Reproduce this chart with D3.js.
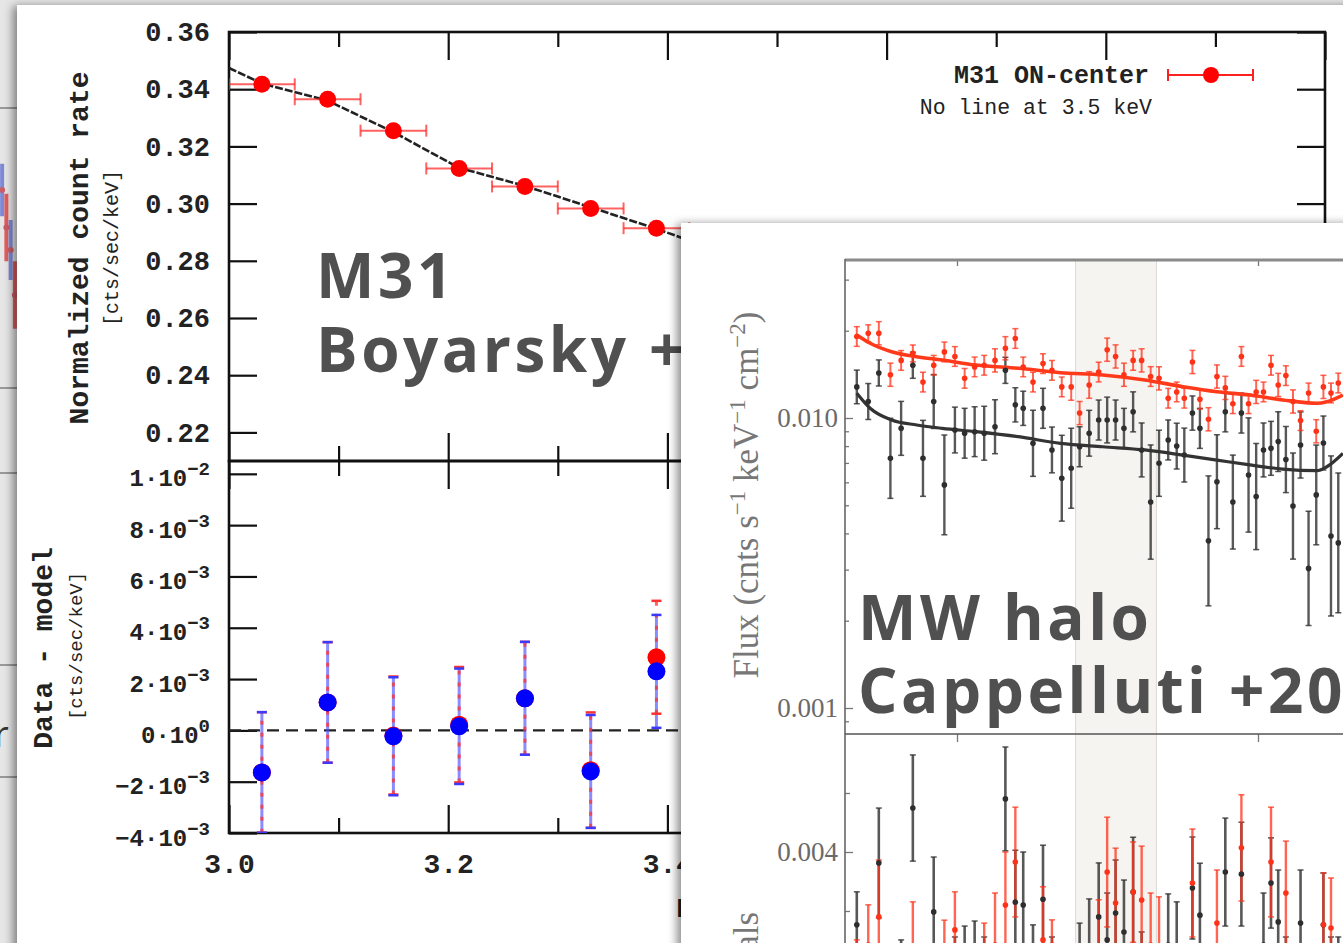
<!DOCTYPE html>
<html>
<head>
<meta charset="utf-8">
<script src="https://cdn.jsdelivr.net/npm/d3@7"></script>
<style>
  body { margin: 0; background: #e8e8e8; overflow: hidden; }
  svg { display: block; }
</style>
</head>
<body>
<svg id="chart"></svg>
<script>
// ---------- M31 panel (Boyarsky) ----------
const m31E = [3.03, 3.09, 3.15, 3.21, 3.27, 3.33, 3.39]
const m31EErr = [0.03, 0.03, 0.03, 0.03, 0.03, 0.03, 0.03]
const m31Rate = [0.3417, 0.3365, 0.3255, 0.3123, 0.3060, 0.2983, 0.2914]
const m31ModelE = [3.00, 3.03, 3.09, 3.15, 3.21, 3.27, 3.33, 3.39, 3.45, 3.51]
const m31ModelRate = [0.3474, 0.3420, 0.3360, 0.3250, 0.3125, 0.3062, 0.2987, 0.2912, 0.2830, 0.2770]
const m31ResRed = [-0.00164, 0.00109, -0.00020, 0.00022, 0.00125, -0.00155, 0.00285]
const m31ResBlue = [-0.00164, 0.00109, -0.00023, 0.00016, 0.00125, -0.00160, 0.00230]
const m31ResErrRed = [0.00235, 0.00235, 0.00230, 0.00225, 0.00220, 0.00225, 0.00220]
const m31ResErrBlue = [0.00235, 0.00235, 0.00230, 0.00225, 0.00220, 0.00220, 0.00220]
const m31RateTicks = [0.22, 0.24, 0.26, 0.28, 0.30, 0.32, 0.34, 0.36]
const m31ResTicks = [-0.004, -0.002, 0, 0.002, 0.004, 0.006, 0.008, 0.01]
const m31ETicks = [3.0, 3.2, 3.4, 3.6, 3.8, 4.0]
const m31ELabels = [3.0, 3.2, 3.4, 3.6, 3.8]
const m31EMinor = [3.1, 3.3, 3.5, 3.7, 3.9]

// ---------- MW halo panel (Cappelluti) ----------
const mwE = [2.726, 2.756, 2.784, 2.815, 2.844, 2.876, 2.904, 2.934, 2.964, 2.994,
  3.022, 3.051, 3.079, 3.111, 3.142, 3.172, 3.196, 3.226, 3.257, 3.285,
  3.316, 3.346, 3.373, 3.404, 3.435, 3.463, 3.491, 3.519, 3.550, 3.579,
  3.610, 3.639, 3.671, 3.701, 3.728, 3.757, 3.784, 3.815, 3.846, 3.877,
  3.905, 3.937, 3.964, 3.993, 4.021, 4.050, 4.078, 4.108, 4.136, 4.166,
  4.198, 4.229, 4.258, 4.289, 4.319]
const redFlux = [0.0191, 0.0196, 0.0196, 0.0141, 0.0158, 0.0167, 0.0133, 0.0152, 0.0169, 0.0163,
  0.0137, 0.0150, 0.0152, 0.0158, 0.0174, 0.0188, 0.0150, 0.0133, 0.0154, 0.0146,
  0.0128, 0.0128, 0.0104, 0.0130, 0.0144, 0.0172, 0.0163, 0.0141, 0.0158, 0.0158,
  0.0139, 0.0137, 0.0117, 0.0123, 0.0117, 0.0156, 0.0116, 0.0099, 0.0139, 0.0127,
  0.0112, 0.0163, 0.0112, 0.0123, 0.0123, 0.0152, 0.0130, 0.0140, 0.0114, 0.0098,
  0.0122, 0.0090, 0.0128, 0.0122, 0.0132]
// errors in dex (log10 units)
const redErrDex = [0.034, 0.029, 0.040, 0.040, 0.034, 0.029, 0.034, 0.034, 0.034, 0.034,
  0.034, 0.034, 0.034, 0.040, 0.040, 0.034, 0.034, 0.034, 0.034, 0.034,
  0.034, 0.046, 0.040, 0.046, 0.034, 0.040, 0.040, 0.040, 0.034, 0.040,
  0.034, 0.040, 0.034, 0.034, 0.034, 0.040, 0.034, 0.040, 0.040, 0.040,
  0.034, 0.034, 0.034, 0.040, 0.034, 0.034, 0.040, 0.034, 0.040, 0.034,
  0.034, 0.040, 0.040, 0.034, 0.034]
const blackFlux = [0.0128, 0.0114, 0.0143, 0.00726, 0.00921, 0.0152, 0.00726, 0.0114, 0.00588, 0.00909,
  0.00886, 0.00897, 0.00886, 0.00933, 0.0146, 0.0111, 0.0108, 0.00818, 0.0108, 0.00776,
  0.00620, 0.00671, 0.00796, 0.00886, 0.00984, 0.00984, 0.00984, 0.00921, 0.0105, 0.00776,
  0.00513, 0.00698, 0.00840, 0.00800, 0.00745, 0.0104, 0.00921, 0.00377, 0.00603, 0.0105,
  0.00513, 0.0104, 0.00636, 0.00536, 0.00776, 0.00786, 0.00829, 0.00719, 0.00497, 0.00807,
  0.00303, 0.00543, 0.00820, 0.00392, 0.00371]
const blackErrDex = [0.058, 0.062, 0.045, 0.138, 0.093, 0.045, 0.131, 0.093, 0.172, 0.079,
  0.086, 0.086, 0.093, 0.093, 0.045, 0.059, 0.059, 0.114, 0.069, 0.079,
  0.148, 0.138, 0.069, 0.079, 0.069, 0.079, 0.069, 0.069, 0.069, 0.093,
  0.197, 0.114, 0.069, 0.079, 0.093, 0.059, 0.069, 0.224, 0.162, 0.069,
  0.162, 0.069, 0.197, 0.183, 0.093, 0.093, 0.103, 0.114, 0.183, 0.114,
  0.197, 0.172, 0.093, 0.276, 0.241]
const redModelE = [2.726, 2.761, 2.818, 2.887, 2.958, 3.055, 3.181, 3.312, 3.448, 3.590, 3.723, 3.846, 3.969, 4.096, 4.232, 4.272, 4.338]
const redModelFlux = [0.01933, 0.01810, 0.01693, 0.01627, 0.01585, 0.01523, 0.01484, 0.01433, 0.01407, 0.01352, 0.01282, 0.01232, 0.01200, 0.01154, 0.01124, 0.01138, 0.01200]
const blackModelFlux = [0.01217, 0.01080, 0.00984, 0.00946, 0.00921, 0.00897, 0.00862, 0.00818, 0.00796, 0.00776, 0.00745, 0.00716, 0.00689, 0.00666, 0.00658, 0.00679, 0.00755]
const blackRes = [0.00153, -0.00068, 0.00363, -0.00102, -0.00017, 0.00549, -0.00102, 0.00197, -0.00136, -0.00068,
  0.00000, 0.00017, -0.00068, -0.00102, 0.00580, 0.00230, 0.00220, -0.00017, 0.00240, -0.00068,
  -0.00102, -0.00136, 0.00017, 0.00068, 0.00180, 0.00102, 0.00193, 0.00129, 0.00264, -0.00051,
  -0.00102, -0.00102, 0.00085, 0.00068, -0.00102, 0.00278, 0.00186, -0.00136, -0.00102, 0.00332,
  -0.00102, 0.00325, -0.00102, -0.00102, 0.00085, 0.00295, 0.00163, -0.00068, -0.00102, 0.00159,
  -0.00102, -0.00102, 0.00153, -0.00068, -0.00068]
const blackResErr = [0.00112, 0.00119, 0.00186, 0.00136, 0.00119, 0.00180, 0.00180, 0.00186, 0.00180, 0.00180,
  0.00149, 0.00149, 0.00180, 0.00180, 0.00176, 0.00176, 0.00180, 0.00170, 0.00183, 0.00180,
  0.00180, 0.00180, 0.00142, 0.00173, 0.00183, 0.00159, 0.00180, 0.00176, 0.00186, 0.00180,
  0.00180, 0.00180, 0.00173, 0.00163, 0.00180, 0.00173, 0.00176, 0.00180, 0.00180, 0.00183,
  0.00180, 0.00176, 0.00180, 0.00180, 0.00176, 0.00153, 0.00176, 0.00180, 0.00180, 0.00180,
  0.00180, 0.00180, 0.00176, 0.00180, 0.00180]
const redRes = [-0.00017, 0.00085, 0.00180, -0.00068, -0.00102, 0.00034, -0.00102, -0.00102, -0.00017, 0.00136,
  -0.00102, -0.00102, 0.00017, 0.00085, 0.00220, 0.00366, -0.00102, -0.00102, 0.00102, 0.00085,
  -0.00102, -0.00102, -0.00102, -0.00102, 0.00058, 0.00332, 0.00227, -0.00102, 0.00264, 0.00237,
  0.00085, 0.00068, -0.00102, -0.00102, -0.00102, 0.00295, -0.00102, -0.00102, 0.00159, -0.00102,
  -0.00102, 0.00414, -0.00102, -0.00102, -0.00102, 0.00366, -0.00102, 0.00261, -0.00102, -0.00102,
  -0.00102, -0.00102, 0.00153, 0.00142, -0.00102]
const redResErr = [0.00119, 0.00136, 0.00193, 0.00136, 0.00180, 0.00197, 0.00180, 0.00180, 0.00186, 0.00129,
  0.00180, 0.00180, 0.00142, 0.00176, 0.00180, 0.00186, 0.00180, 0.00180, 0.00180, 0.00085,
  0.00180, 0.00180, 0.00180, 0.00180, 0.00180, 0.00186, 0.00186, 0.00180, 0.00170, 0.00183,
  0.00176, 0.00180, 0.00180, 0.00180, 0.00180, 0.00183, 0.00180, 0.00180, 0.00180, 0.00180,
  0.00180, 0.00180, 0.00180, 0.00180, 0.00180, 0.00186, 0.00180, 0.00176, 0.00180, 0.00180,
  0.00180, 0.00180, 0.00176, 0.00170, 0.00180]
const lineBand = [3.36, 3.63]
const mwFluxMajor = [0.001, 0.01]
const mwFluxMinor = [0.0009, 0.002, 0.003, 0.004, 0.005, 0.006, 0.007, 0.008, 0.009, 0.02, 0.03]
const mwResLabelTicks = [0.004]
const mwResMinor = [0.002, 0.006]
const mwETicks = [3, 4]

// bits of the slide underneath (left strip)
const slideE = [3.50, 3.52, 3.54, 3.56]
const slideVal = [0.8, 0.3, 0.0, -0.6]
const slideErr = [0.35, 0.45, 0.40, 0.45]

const W = 1343, H = 943
const mono = "'Liberation Mono', 'DejaVu Sans Mono', monospace"
const serif = "'Liberation Serif', 'DejaVu Serif', serif"
const sans = "'Open Sans', 'Lato', sans-serif"

const svg = d3.select("#chart").attr("width", W).attr("height", H)
const defs = svg.append("defs")
defs.append("filter").attr("id", "shadow")
  .attr("x", "-10%").attr("y", "-10%").attr("width", "120%").attr("height", "120%")
  .append("feDropShadow")
  .attr("dx", -4).attr("dy", 1).attr("stdDeviation", 5)
  .attr("flood-color", "#000").attr("flood-opacity", 0.45)

const clip = (id, x, y, w, h) => defs.append("clipPath").attr("id", id)
  .append("rect").attr("x", x).attr("y", y).attr("width", w).attr("height", h)

// background slide
svg.append("rect").attr("width", W).attr("height", H).attr("fill", "#e6e6e6")
svg.selectAll(".slideRule").data([108, 388, 473, 665, 777]).join("line")
  .attr("class", "slideRule")
  .attr("x1", 0).attr("x2", 20).attr("y1", d => d).attr("y2", d => d)
  .attr("stroke", "#666").attr("stroke-width", 1.2)
svg.append("text").attr("x", -6).attr("y", 747)
  .attr("font-family", sans).attr("font-size", 36).attr("fill", "#333").text("r")

const sx = d3.scaleLinear().domain([3.49, 3.57]).range([0, 17])
const sy = d3.scaleLinear().domain([-1.2, 1.2]).range([340, 160])
const slide = svg.append("g").attr("opacity", 0.75)
slide.selectAll(".sbar").data(slideE).join("line")
  .attr("x1", d => sx(d)).attr("x2", d => sx(d))
  .attr("y1", (d, i) => sy(slideVal[i] - slideErr[i]))
  .attr("y2", (d, i) => sy(slideVal[i] + slideErr[i]))
  .attr("stroke", (d, i) => i % 2 ? "#e03030" : "#5a6ad0").attr("stroke-width", 4)
slide.selectAll(".sdot").data(slideE).join("circle")
  .attr("cx", d => sx(d)).attr("cy", (d, i) => sy(slideVal[i])).attr("r", 3)
  .attr("fill", "#c03040")

// ================= M31 panel =================
svg.append("rect").attr("x", 17).attr("y", 5).attr("width", 1500).attr("height", 1100)
  .attr("fill", "#fff").attr("filter", "url(#shadow)")

const xM = d3.scaleLinear().domain([3.0, 4.0]).range([229, 1325])
const yTop = d3.scaleLinear().domain([0.21, 0.36]).range([461, 32])
const yBot = d3.scaleLinear().domain([-0.004, 0.0105]).range([833, 461])

clip("clipTop", 229, 32, 1096, 429)
clip("clipBot", 229, 461, 1096, 372)

const m31 = svg.append("g")

function styleAxis(g, size, weight) {
  g.select(".domain").remove()
  g.selectAll("line").attr("stroke", "#111").attr("stroke-width", 2.2)
  g.selectAll("text").attr("font-family", mono).attr("font-size", size)
    .attr("font-weight", weight).attr("fill", "#222")
}

// left upper axis
m31.append("g").attr("transform", "translate(229,0)")
  .call(d3.axisLeft(yTop).tickValues(m31RateTicks).tickSize(-28).tickPadding(19).tickFormat(d3.format(".2f")))
  .call(g => styleAxis(g, 27, "bold"))
// right upper axis
m31.append("g").attr("transform", "translate(1325,0)")
  .call(d3.axisRight(yTop).tickValues(m31RateTicks).tickSize(-28).tickFormat(""))
  .call(g => styleAxis(g, 27, "bold"))

// lower left axis with power-of-ten labels
const powLabel = v => {
  if (v === 0) return ["0\u00b710", "0"]
  const e = Math.floor(Math.log10(Math.abs(v)) + 1e-9)
  const m = Math.round(v / Math.pow(10, e))
  return [(m < 0 ? "\u2212" + (-m) : m) + "\u00b710", "\u2212" + (-e)]
}
m31.append("g").attr("transform", "translate(229,0)")
  .call(d3.axisLeft(yBot).tickValues(m31ResTicks).tickSize(-28).tickPadding(19).tickFormat(""))
  .call(g => styleAxis(g, 24, "bold"))
  .call(g => g.selectAll(".tick text").attr("dy", "0.5em").each(function(d) {
    const p = powLabel(d)
    const t = d3.select(this)
    t.append("tspan").text(p[0])
    t.append("tspan").attr("dy", -11).attr("font-size", 19).text(p[1])
  }))
m31.append("g").attr("transform", "translate(1325,0)")
  .call(d3.axisRight(yBot).tickValues(m31ResTicks).tickSize(-28).tickFormat(""))
  .call(g => styleAxis(g, 24, "bold"))

// energy axes (top of upper panel, both sides of the divider, bottom)
const eAxis = (axisFn, y, vals, size, fmt) => m31.append("g").attr("transform", `translate(0,${y})`)
  .call(axisFn(xM).tickValues(vals).tickSize(size).tickPadding(20).tickFormat(fmt))
  .call(g => styleAxis(g, 28, "bold"))
eAxis(d3.axisTop, 32, m31ETicks, -28, "")
eAxis(d3.axisTop, 32, m31EMinor, -15, "")
eAxis(d3.axisBottom, 461, m31ETicks, -28, "")
eAxis(d3.axisBottom, 461, m31EMinor, -15, "")
eAxis(d3.axisTop, 461, m31ETicks, -28, "")
eAxis(d3.axisTop, 461, m31EMinor, -15, "")
eAxis(d3.axisBottom, 833, m31ETicks, -28, "")
eAxis(d3.axisBottom, 833, m31EMinor, -15, "")
eAxis(d3.axisBottom, 833, m31ELabels, 0, d3.format(".1f"))

// frames
m31.append("rect").attr("x", 229).attr("y", 32).attr("width", 1096).attr("height", 429)
  .attr("fill", "none").attr("stroke", "#111").attr("stroke-width", 2.6)
m31.append("rect").attr("x", 229).attr("y", 461).attr("width", 1096).attr("height", 372)
  .attr("fill", "none").attr("stroke", "#111").attr("stroke-width", 2.6)

// axis titles
const vtext = (x, y, txt, size, weight) => m31.append("text")
  .attr("transform", `translate(${x},${y}) rotate(-90)`)
  .attr("text-anchor", "middle").attr("font-family", mono).attr("font-size", size)
  .attr("font-weight", weight).attr("fill", "#222").text(txt)
vtext(88, 248, "Normalized count rate", 28, "bold")
vtext(118, 248, "[cts/sec/keV]", 20, "normal")
vtext(52, 648, "Data - model", 28, "bold")
vtext(82, 646, "[cts/sec/keV]", 19, "normal")
m31.append("text").attr("x", 777).attr("y", 917).attr("text-anchor", "middle")
  .attr("font-family", mono).attr("font-size", 28).attr("font-weight", "bold").attr("fill", "#222")
  .text("Energy [keV]")

// upper data
const up = m31.append("g").attr("clip-path", "url(#clipTop)")
up.append("path").datum(m31ModelE)
  .attr("d", d3.line().x(d => xM(d)).y((d, i) => yTop(m31ModelRate[i])))
  .attr("fill", "none").attr("stroke", "#222").attr("stroke-width", 2.6).attr("stroke-dasharray", "8,2")
up.selectAll(".hbar").data(m31E).join("line")
  .attr("x1", (d, i) => xM(d - m31EErr[i])).attr("x2", (d, i) => xM(d + m31EErr[i]))
  .attr("y1", (d, i) => yTop(m31Rate[i])).attr("y2", (d, i) => yTop(m31Rate[i]))
  .attr("stroke", "#ff2020").attr("stroke-opacity", 0.7).attr("stroke-width", 2)
up.selectAll(".capL").data(m31E).join("line")
  .attr("x1", (d, i) => xM(d - m31EErr[i])).attr("x2", (d, i) => xM(d - m31EErr[i]))
  .attr("y1", (d, i) => yTop(m31Rate[i]) - 6).attr("y2", (d, i) => yTop(m31Rate[i]) + 6)
  .attr("stroke", "#ff2020").attr("stroke-opacity", 0.7).attr("stroke-width", 2)
up.selectAll(".capR").data(m31E).join("line")
  .attr("x1", (d, i) => xM(d + m31EErr[i])).attr("x2", (d, i) => xM(d + m31EErr[i]))
  .attr("y1", (d, i) => yTop(m31Rate[i]) - 6).attr("y2", (d, i) => yTop(m31Rate[i]) + 6)
  .attr("stroke", "#ff2020").attr("stroke-opacity", 0.7).attr("stroke-width", 2)
up.selectAll(".pt").data(m31E).join("circle")
  .attr("cx", d => xM(d)).attr("cy", (d, i) => yTop(m31Rate[i])).attr("r", 8.5)
  .attr("fill", "#ff0000")

// legend
m31.append("text").attr("x", 1149).attr("y", 83).attr("text-anchor", "end")
  .attr("font-family", mono).attr("font-size", 25).attr("font-weight", "bold").attr("fill", "#222")
  .text("M31 ON-center")
m31.append("text").attr("x", 1152).attr("y", 114).attr("text-anchor", "end")
  .attr("font-family", mono).attr("font-size", 21.5).attr("fill", "#222")
  .text("No line at 3.5 keV")
const lg = m31.append("g").attr("stroke", "#ff2020").attr("stroke-width", 2)
lg.append("line").attr("x1", 1168).attr("x2", 1253).attr("y1", 75).attr("y2", 75)
lg.append("line").attr("x1", 1168).attr("x2", 1168).attr("y1", 69).attr("y2", 81)
lg.append("line").attr("x1", 1253).attr("x2", 1253).attr("y1", 69).attr("y2", 81)
m31.append("circle").attr("cx", 1211).attr("cy", 75).attr("r", 8).attr("fill", "#ff0000")

// lower data
const lo = m31.append("g").attr("clip-path", "url(#clipBot)")
lo.append("line").attr("x1", xM(3.0)).attr("x2", xM(4.0)).attr("y1", yBot(0)).attr("y2", yBot(0))
  .attr("stroke", "#222").attr("stroke-width", 2.4).attr("stroke-dasharray", "12,7")
lo.selectAll(".bb").data(m31E).join("line")
  .attr("x1", d => xM(d)).attr("x2", d => xM(d))
  .attr("y1", (d, i) => yBot(m31ResBlue[i] - m31ResErrBlue[i]))
  .attr("y2", (d, i) => yBot(m31ResBlue[i] + m31ResErrBlue[i]))
  .attr("stroke", "#4d4dff").attr("stroke-opacity", 0.65).attr("stroke-width", 3)
lo.selectAll(".rb").data(m31E).join("line")
  .attr("x1", d => xM(d)).attr("x2", d => xM(d))
  .attr("y1", (d, i) => yBot(m31ResRed[i] - m31ResErrRed[i]))
  .attr("y2", (d, i) => yBot(m31ResRed[i] + m31ResErrRed[i]))
  .attr("stroke", "#ff3030").attr("stroke-opacity", 0.75).attr("stroke-width", 3)
  .attr("stroke-dasharray", "4,8")
const caps = (cls, vals, errs, sign, color) => lo.selectAll("." + cls).data(m31E).join("line")
  .attr("x1", d => xM(d) - 5).attr("x2", d => xM(d) + 5)
  .attr("y1", (d, i) => yBot(vals[i] + sign * errs[i]))
  .attr("y2", (d, i) => yBot(vals[i] + sign * errs[i]))
  .attr("stroke", color).attr("stroke-width", 2.5)
caps("rcu", m31ResRed, m31ResErrRed, 1, "#ff3030")
caps("rcd", m31ResRed, m31ResErrRed, -1, "#ff3030")
caps("bcu", m31ResBlue, m31ResErrBlue, 1, "#3a3aff")
caps("bcd", m31ResBlue, m31ResErrBlue, -1, "#3a3aff")
lo.selectAll(".rp").data(m31E).join("circle")
  .attr("cx", d => xM(d)).attr("cy", (d, i) => yBot(m31ResRed[i])).attr("r", 9).attr("fill", "#ff0000")
lo.selectAll(".bp").data(m31E).join("circle")
  .attr("cx", d => xM(d)).attr("cy", (d, i) => yBot(m31ResBlue[i])).attr("r", 9).attr("fill", "#0000ff")

// big overlay label
const bigText = (x, y, txt) => svg.append("text").attr("x", x).attr("y", y)
  .attr("font-family", sans).attr("font-weight", 700).attr("font-size", 62)
  .attr("letter-spacing", 3.5).attr("fill", "#505050").text(txt)
bigText(316, 298, "M31")
bigText(316, 372, "Boyarsky +14")

// ================= MW halo panel =================
svg.append("rect").attr("x", 681).attr("y", 223).attr("width", 800).attr("height", 800)
  .attr("fill", "#fff").attr("filter", "url(#shadow)")

const xW = d3.scaleLog().domain([3, 4]).range([957, 1258])
const yW = d3.scaleLog().domain([0.001, 0.01]).range([708, 418])
const yR = d3.scaleLinear().domain([0.002, 0.004]).range([911, 852])

clip("clipMWTop", 846, 261, 600, 473)
clip("clipMWBot", 846, 735, 600, 220)

const mw = svg.append("g")
mw.append("rect").attr("x", xW(lineBand[0])).attr("y", 260)
  .attr("width", xW(lineBand[1]) - xW(lineBand[0])).attr("height", 700)
  .attr("fill", "#f5f4f0").attr("stroke", "#dcdad4").attr("stroke-width", 1)

function styleMW(g) {
  g.select(".domain").remove()
  g.selectAll("line").attr("stroke", "#777").attr("stroke-width", 1.3)
  g.selectAll("text").attr("font-family", serif).attr("font-size", 27).attr("fill", "#6a6a6a")
}
mw.append("g").attr("transform", "translate(845,0)")
  .call(d3.axisLeft(yW).tickValues(mwFluxMajor).tickSize(-8).tickPadding(7).tickFormat(d3.format(".3f")))
  .call(styleMW)
mw.append("g").attr("transform", "translate(845,0)")
  .call(d3.axisLeft(yW).tickValues(mwFluxMinor).tickSize(-4).tickFormat(""))
  .call(styleMW)
mw.append("g").attr("transform", "translate(845,0)")
  .call(d3.axisLeft(yR).tickValues(mwResLabelTicks).tickSize(-8).tickPadding(7).tickFormat(d3.format(".3f")))
  .call(styleMW)
mw.append("g").attr("transform", "translate(845,0)")
  .call(d3.axisLeft(yR).tickValues(mwResMinor).tickSize(-5).tickFormat(""))
  .call(styleMW)
mw.append("g").attr("transform", "translate(0,260)")
  .call(d3.axisBottom(xW).tickValues(mwETicks).tickSize(6).tickFormat(""))
  .call(styleMW)
mw.append("g").attr("transform", "translate(0,734)")
  .call(d3.axisBottom(xW).tickValues(mwETicks).tickSize(8).tickFormat(""))
  .call(styleMW)

// frame lines
mw.append("line").attr("x1", 845).attr("x2", 1400).attr("y1", 260).attr("y2", 260)
  .attr("stroke", "#8a8a8a").attr("stroke-width", 3)
mw.append("line").attr("x1", 845).attr("x2", 845).attr("y1", 259).attr("y2", 960)
  .attr("stroke", "#666").attr("stroke-width", 1.6)
mw.append("line").attr("x1", 845).attr("x2", 1400).attr("y1", 734).attr("y2", 734)
  .attr("stroke", "#555").attr("stroke-width", 1.6)

// titles
const fluxT = mw.append("text").attr("transform", "translate(758,495) rotate(-90)")
  .attr("text-anchor", "middle").attr("font-family", serif).attr("font-size", 35).attr("fill", "#777")
fluxT.append("tspan").text("Flux (cnts s")
fluxT.append("tspan").attr("dy", -13).attr("font-size", 23).text("\u22121")
fluxT.append("tspan").attr("dy", 13).text(" keV")
fluxT.append("tspan").attr("dy", -13).attr("font-size", 23).text("\u22121")
fluxT.append("tspan").attr("dy", 13).text(" cm")
fluxT.append("tspan").attr("dy", -13).attr("font-size", 23).text("\u22122")
fluxT.append("tspan").attr("dy", 13).text(")")
mw.append("text").attr("transform", "translate(758,980) rotate(-90)")
  .attr("text-anchor", "middle").attr("font-family", serif).attr("font-size", 35).attr("fill", "#777")
  .text("Residuals")

// error bar helper
function errSeries(g, yFn, lowFn, highFn, color, w, opacity) {
  const s = g.append("g").attr("stroke", color).attr("stroke-opacity", opacity)
  s.selectAll(".v").data(mwE).join("line")
    .attr("x1", d => xW(d)).attr("x2", d => xW(d))
    .attr("y1", (d, i) => yFn(lowFn(i))).attr("y2", (d, i) => yFn(highFn(i)))
    .attr("stroke-width", w)
  s.selectAll(".ct").data(mwE).join("line")
    .attr("x1", d => xW(d) - 3).attr("x2", d => xW(d) + 3)
    .attr("y1", (d, i) => yFn(highFn(i))).attr("y2", (d, i) => yFn(highFn(i)))
    .attr("stroke-width", 1.5)
  s.selectAll(".cb").data(mwE).join("line")
    .attr("x1", d => xW(d) - 3).attr("x2", d => xW(d) + 3)
    .attr("y1", (d, i) => yFn(lowFn(i))).attr("y2", (d, i) => yFn(lowFn(i)))
    .attr("stroke-width", 1.5)
}
const dots = (g, yFn, vals, color) => g.append("g").selectAll("circle").data(mwE).join("circle")
  .attr("cx", d => xW(d)).attr("cy", (d, i) => yFn(vals[i])).attr("r", 2.8).attr("fill", color)

const RED = "#ff3218", BLK = "#2e2e2e"

const mwUp = mw.append("g").attr("clip-path", "url(#clipMWTop)")
errSeries(mwUp, yW, i => blackFlux[i] / Math.pow(10, blackErrDex[i]), i => blackFlux[i] * Math.pow(10, blackErrDex[i]), BLK, 2.4, 0.8)
errSeries(mwUp, yW, i => redFlux[i] / Math.pow(10, redErrDex[i]), i => redFlux[i] * Math.pow(10, redErrDex[i]), RED, 2, 0.75)
mwUp.append("path").datum(redModelE)
  .attr("d", d3.line().curve(d3.curveMonotoneX).x(d => xW(d)).y((d, i) => yW(blackModelFlux[i])))
  .attr("fill", "none").attr("stroke", "#333").attr("stroke-width", 3.2)
mwUp.append("path").datum(redModelE)
  .attr("d", d3.line().curve(d3.curveMonotoneX).x(d => xW(d)).y((d, i) => yW(redModelFlux[i])))
  .attr("fill", "none").attr("stroke", "#ff3a1a").attr("stroke-width", 3.6)
dots(mwUp, yW, blackFlux, BLK)
dots(mwUp, yW, redFlux, RED)

const mwLo = mw.append("g").attr("clip-path", "url(#clipMWBot)")
errSeries(mwLo, yR, i => blackRes[i] - blackResErr[i], i => blackRes[i] + blackResErr[i], BLK, 2.6, 0.8)
errSeries(mwLo, yR, i => redRes[i] - redResErr[i], i => redRes[i] + redResErr[i], RED, 2.4, 0.75)
dots(mwLo, yR, blackRes, BLK)
dots(mwLo, yR, redRes, RED)

// big overlay label
bigText(858, 640, "MW halo")
bigText(858, 713, "Cappelluti +2018")
</script>
</body>
</html>
